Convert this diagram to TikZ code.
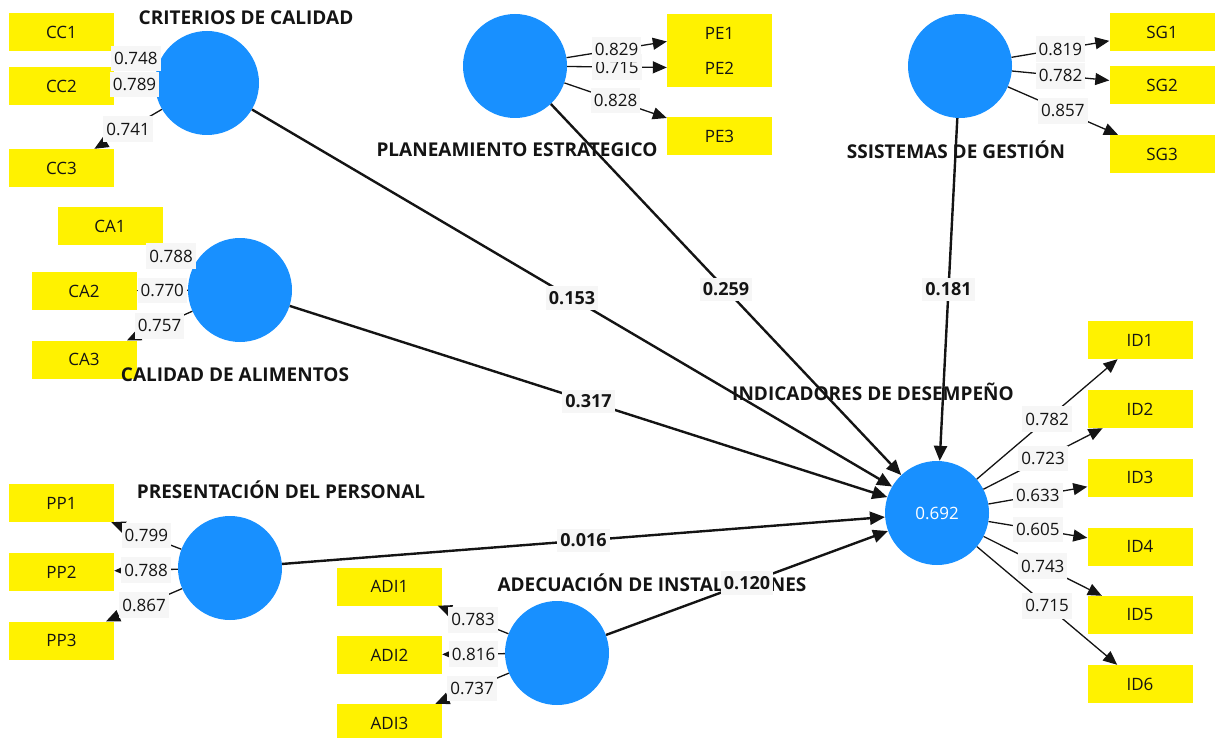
\documentclass[tikz,border=0pt]{standalone}
\usepackage{fontspec}
\setmainfont{Open Sans}
\usetikzlibrary{arrows.meta}
\definecolor{lvblue}{RGB}{24,144,255}
\definecolor{labbg}{RGB}{246,246,246}
\definecolor{ink}{RGB}{20,20,20}
\begin{document}
\begin{tikzpicture}[x=1pt,y=-1pt,
 lv/.style={circle,fill=lvblue,minimum size=104pt,inner sep=0pt},
 mv/.style={rectangle,fill=yellow,minimum width=105pt,minimum height=38pt,inner sep=0pt,text=ink,font=\fontsize{17}{20}\selectfont},
 lvname/.style={font=\bfseries\fontsize{19}{22}\selectfont,inner sep=0pt,text=ink},
 load/.style={line width=1.3pt,draw=ink,-{Triangle[length=14pt,width=12pt]}},
 inner/.style={line width=2.4pt,draw=ink,-{Triangle[length=15pt,width=13pt]}},
 lw/.style={fill=labbg,inner xsep=3pt,inner ysep=6.5pt,text=ink,font=\fontsize{17}{20}\selectfont},
 pw/.style={fill=labbg,inner xsep=3pt,inner ysep=5pt,text=ink,font=\bfseries\fontsize{18}{21}\selectfont}]
\useasboundingbox (0,0) rectangle (1215,738);

% latent variables
\node[lv] (cc) at (207,83) {};
\node[lv] (pe) at (515,66) {};
\node[lv] (sg) at (960,66) {};
\node[lv] (ca) at (240,290) {};
\node[lv] (pp) at (230,568) {};
\node[lv] (adi) at (557,653) {};
\node[lv,text=white,font=\fontsize{17}{20}\selectfont] (id) at (937,513) {0.692};

% indicators
\node[mv] (cc1) at (61.5,32.5) {CC1};
\node[mv] (cc2) at (61.5,86) {CC2};
\node[mv] (cc3) at (61.5,168) {CC3};
\node[mv] (pe1) at (719.5,33) {PE1};
\node[mv] (pe2) at (719.5,68) {PE2};
\node[mv] (pe3) at (719.5,136) {PE3};
\node[mv] (sg1) at (1162,32) {SG1};
\node[mv] (sg2) at (1162,85.5) {SG2};
\node[mv] (sg3) at (1162,154) {SG3};
\node[mv] (ca1) at (110,226) {CA1};
\node[mv] (ca2) at (84,291) {CA2};
\node[mv] (ca3) at (84,359.5) {CA3};
\node[mv] (pp1) at (61.5,503) {PP1};
\node[mv] (pp2) at (61.5,572) {PP2};
\node[mv] (pp3) at (61.5,640.5) {PP3};
\node[mv] (adi1) at (389.5,586.5) {ADI1};
\node[mv] (adi2) at (389.5,655) {ADI2};
\node[mv] (adi3) at (389.5,723) {ADI3};
\node[mv] (id1) at (1140,340) {ID1};
\node[mv] (id2) at (1140,409) {ID2};
\node[mv] (id3) at (1140,477.5) {ID3};
\node[mv] (id4) at (1140,546.5) {ID4};
\node[mv] (id5) at (1140,615) {ID5};
\node[mv] (id6) at (1140,684) {ID6};

% names
\node[lvname] (ncc) at (246,18) {CRITERIOS DE CALIDAD};
\node[lvname] (npe) at (517,150) {PLANEAMIENTO ESTRATEGICO};
\node[lvname] (nsg) at (956,150) {SSISTEMAS DE GESTIÓN};
\node[lvname] (nca) at (235,375) {CALIDAD DE ALIMENTOS};
\node[lvname] (npp) at (281,490) {PRESENTACIÓN DEL PERSONAL};
\node[lvname] (nadi) at (652,583) {ADECUACIÓN DE INSTALACIONES};
\node[lvname] (nid) at (873,392) {INDICADORES DE DESEMPEÑO};

% loadings
\draw[load] (cc) -- node[lw]{0.748} (cc1);
\draw[load] (cc) -- node[lw]{0.789} (cc2);
\draw[load] (cc) -- node[lw]{0.741} (cc3);
\draw[load] (pe) -- node[lw]{0.715} (pe2);
\draw[load] (pe) -- node[lw]{0.829} (pe1);
\draw[load] (pe) -- node[lw]{0.828} (pe3);
\draw[load] (sg) -- node[lw]{0.819} (sg1);
\draw[load] (sg) -- node[lw]{0.782} (sg2);
\draw[load] (sg) -- node[lw]{0.857} (sg3);
\draw[load] (ca) -- node[lw]{0.788} (ca1);
\draw[load] (ca) -- node[lw]{0.770} (ca2);
\draw[load] (ca) -- node[lw]{0.757} (ca3);
\draw[load] (pp) -- node[lw]{0.799} (pp1);
\draw[load] (pp) -- node[lw]{0.788} (pp2);
\draw[load] (pp) -- node[lw]{0.867} (pp3);
\draw[load] (adi) -- node[lw]{0.783} (adi1);
\draw[load] (adi) -- node[lw]{0.816} (adi2);
\draw[load] (adi) -- node[lw]{0.737} (adi3);
\draw[load] (id) -- node[lw]{0.782} (id1);
\draw[load] (id) -- node[lw]{0.723} (id2);
\draw[load] (id) -- node[lw]{0.633} (id3);
\draw[load] (id) -- node[lw]{0.605} (id4);
\draw[load] (id) -- node[lw]{0.743} (id5);
\draw[load] (id) -- node[lw]{0.715} (id6);

% structural paths
\draw[inner] (cc) -- node[pw]{0.153} (id);
\draw[inner] (pe) -- node[pw]{0.259} (id);
\draw[inner] (sg) -- node[pw]{0.181} (id);
\draw[inner] (ca) -- node[pw]{0.317} (id);
\draw[inner] (pp) -- node[pw]{0.016} (id);
\draw[inner] (adi) -- node[pw]{0.120} (id);
\end{tikzpicture}
\end{document}
